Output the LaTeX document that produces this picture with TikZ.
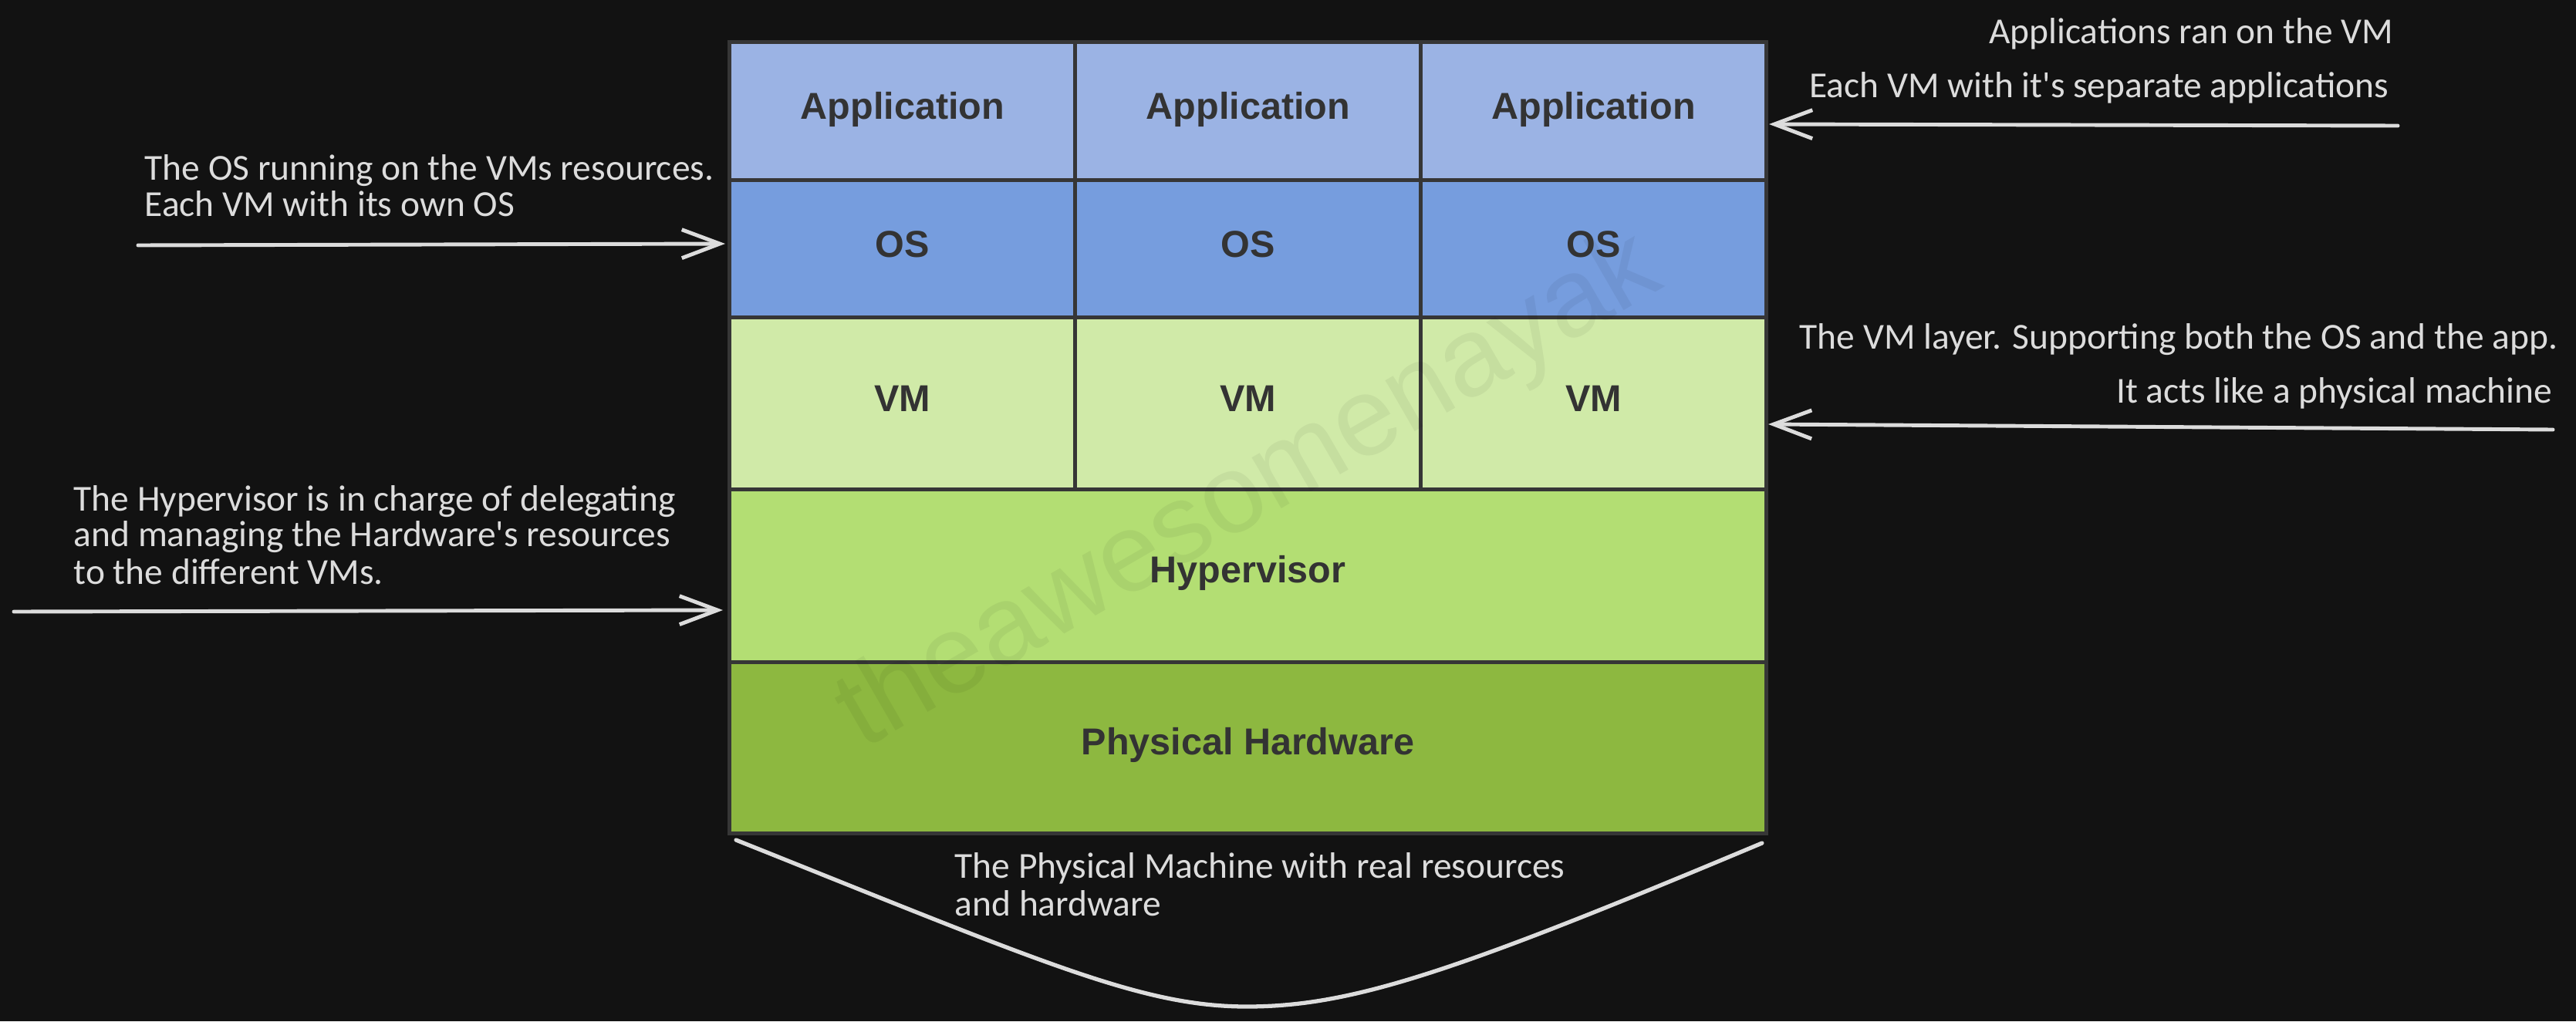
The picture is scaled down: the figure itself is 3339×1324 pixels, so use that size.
\documentclass[tikz,border=0pt]{standalone}
\usepackage{fontspec}
\setmainfont{Liberation Sans}
\newfontfamily\hand{Carlito}
\usetikzlibrary{arrows.meta}
\definecolor{bg}{HTML}{121212}
\definecolor{cellline}{HTML}{363636}
\definecolor{appc}{HTML}{9BB3E4}
\definecolor{osc}{HTML}{769DDE}
\definecolor{vmc}{HTML}{D0EAA8}
\definecolor{hypc}{HTML}{B3DE73}
\definecolor{hwc}{HTML}{8DB840}
\definecolor{lbltext}{HTML}{333333}
\definecolor{notec}{HTML}{DCDCDC}
\tikzset{
  cell/.style={draw=cellline, line width=1.4pt, inner sep=0pt, outer sep=0pt,
    minimum width=4.48cm},
  lbl/.style={text=lbltext, inner sep=0pt, anchor=base,
    font=\bfseries\fontsize{13.8pt}{16pt}\selectfont},
  note/.style={text=notec, inner sep=0pt, font=\hand\fontsize{13.5pt}{14pt}\selectfont},
  notearrow/.style={draw=notec, line width=1.4pt, line cap=round,
    -{Straight Barb[length=14pt,width=10.5pt]}},
  notecurve/.style={draw=notec, line width=1.5pt, line cap=round},
}
\begin{document}
\begin{tikzpicture}[x=0.01cm,y=-0.01cm]
\fill[bg] (0,0) rectangle (3339,1324);
\useasboundingbox (0,0) rectangle (3339,1324);

% application row
\node[cell, fill=appc, minimum height=1.79cm] (a1) at (1170,144.5) {};
\node[cell, fill=appc, minimum height=1.79cm] (a2) at (1618,144.5) {};
\node[cell, fill=appc, minimum height=1.79cm] (a3) at (2065.5,144.5) {};
% OS row
\node[cell, fill=osc, minimum height=1.78cm] (o1) at (1170,323) {};
\node[cell, fill=osc, minimum height=1.78cm] (o2) at (1618,323) {};
\node[cell, fill=osc, minimum height=1.78cm] (o3) at (2065.5,323) {};
% VM row
\node[cell, fill=vmc, minimum height=2.23cm] (v1) at (1170,523.5) {};
\node[cell, fill=vmc, minimum height=2.23cm] (v2) at (1618,523.5) {};
\node[cell, fill=vmc, minimum height=2.23cm] (v3) at (2065.5,523.5) {};
% hypervisor and hardware
\node[cell, fill=hypc, minimum width=13.43cm, minimum height=2.24cm] (hyp) at (1617.5,747) {};
\node[cell, fill=hwc, minimum width=13.43cm, minimum height=2.21cm] (hw) at (1617.5,969.5) {};

% watermark (faint)
\node[rotate=30, font=\fontsize{41pt}{41pt}\selectfont, text=black, opacity=0.05, inner sep=0pt] (wm) at (1620,640) {theawesomenayak};

% labels
\foreach \n in {a1,a2,a3} \node[lbl] (l\n) at ([yshift=-0.1cm]\n.center) {Application};
\foreach \n in {o1,o2,o3} \node[lbl] (l\n) at ([yshift=-0.1cm]\n.center) {OS};
\foreach \n in {v1,v2,v3} \node[lbl] (l\n) at ([yshift=-0.095cm]\n.center) {VM};
\node[lbl] (lhyp) at ([yshift=-0.085cm]hyp.center) {Hypervisor};
\node[lbl] (lhw) at ([yshift=-0.085cm]hw.center) {Physical Hardware};

% right top note
\node[note, anchor=base east] (n1a) at (3103,56) {Applications ran on the VM};
\node[note, anchor=base east] (n1b) at (3097,126) {Each VM with it's separate applications};
\coordinate (n1tail) at (3108,163);
\coordinate (n1tip) at (2293,161);
\draw[notearrow] (n1tail) -- (n1tip);

% left top note
\node[note, anchor=base west] (n2a) at (187,233) {The OS running on the VMs resources.};
\node[note, anchor=base west] (n2b) at (187,280) {Each VM with its own OS};
\coordinate (n2tail) at (179,318);
\coordinate (n2tip) at (940,316);
\draw[notearrow] (n2tail) -- (n2tip);

% right middle note
\node[note, anchor=base east] (n3a) at (3316,452) {The VM layer. Supporting both the OS and the app.};
\node[note, anchor=base east] (n3b) at (3309,522) {It acts like a physical machine};
\coordinate (n3tail) at (3309,557);
\coordinate (n3tip) at (2292,550);
\draw[notearrow] (n3tail) -- (n3tip);

% left lower note
\node[note, anchor=base west] (n4a) at (95,662) {The Hypervisor is in charge of delegating};
\node[note, anchor=base west] (n4b) at (95,708) {and managing the Hardware's resources};
\node[note, anchor=base west] (n4c) at (95,757) {to the different VMs.};
\coordinate (n4tail) at (18,793);
\coordinate (n4tip) at (937,791);
\draw[notearrow] (n4tail) -- (n4tip);

% bottom brace and note
\coordinate (cl) at (954,1089);
\coordinate (cb) at (1616,1305);
\coordinate (cr) at (2284,1093);
\draw[notecurve] (cl) .. controls (1354,1249) and (1480,1305) .. (cb)
  .. controls (1752,1305) and (1884,1261) .. (cr);
\node[note, anchor=base west] (n5a) at (1237,1138) {The Physical Machine with real resources};
\node[note, anchor=base west] (n5b) at (1237,1187) {and hardware};
\end{tikzpicture}
\end{document}
